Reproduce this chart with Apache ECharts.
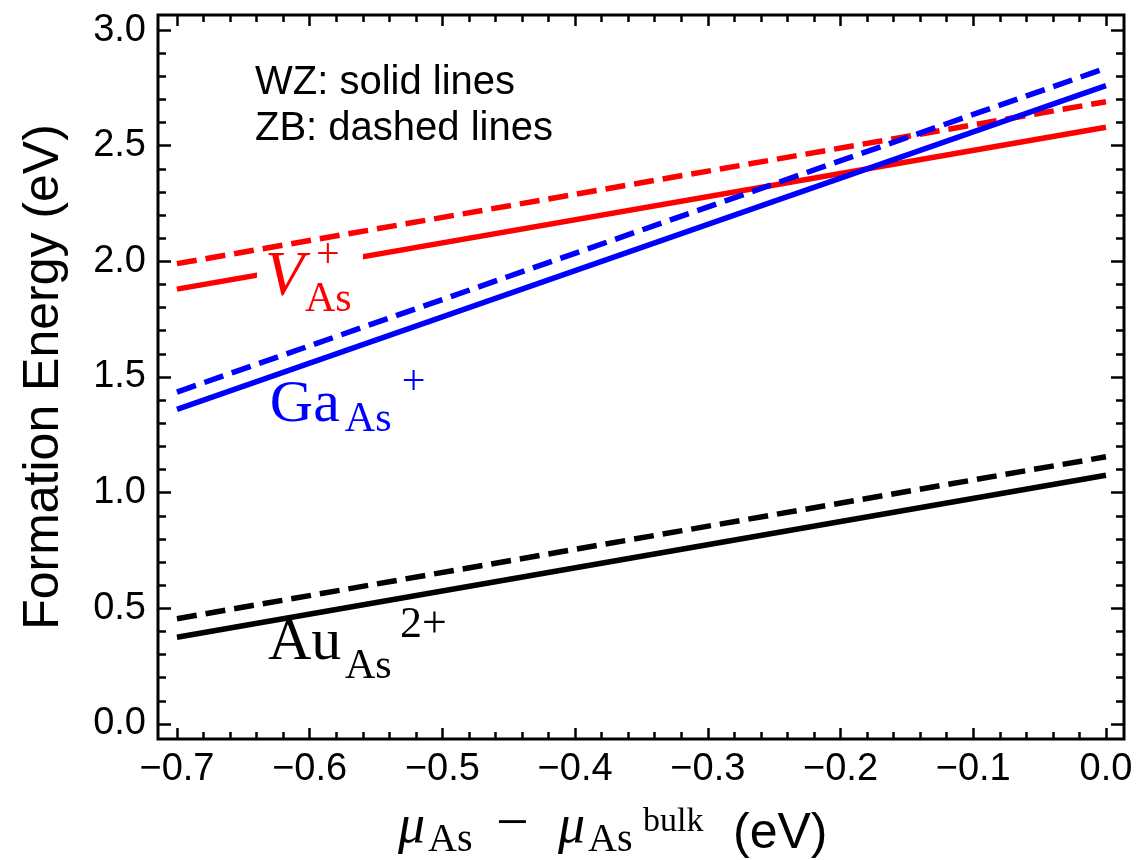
<!DOCTYPE html>
<html>
<head>
<meta charset="utf-8">
<script src="https://cdn.jsdelivr.net/npm/echarts@6/dist/echarts.min.js"></script>
<style>html,body{margin:0;padding:0;background:#fff;}#c{width:1137px;height:860px;}</style>
</head>
<body>
<div id="c"></div>
<script>
// ---- data ----
const muX = [-0.7, 0.0];
const vasWZ = [1.88, 2.58];
const vasZB = [1.99, 2.69];
const gaWZ = [1.36, 2.76];
const gaZB = [1.435, 2.835];
const auWZ = [0.375, 1.075];
const auZB = [0.455, 1.155];
const xMajor = [-0.7, -0.6, -0.5, -0.4, -0.3, -0.2, -0.1, 0.0];
const xMinor = [-0.70,-0.68,-0.66,-0.64,-0.62,-0.60,-0.58,-0.56,-0.54,-0.52,-0.50,-0.48,-0.46,-0.44,-0.42,-0.40,-0.38,-0.36,-0.34,-0.32,-0.30,-0.28,-0.26,-0.24,-0.22,-0.20,-0.18,-0.16,-0.14,-0.12,-0.10,-0.08,-0.06,-0.04,-0.02,0.0];
const yMajor = [0.0, 0.5, 1.0, 1.5, 2.0, 2.5, 3.0];
const yMinor = [0.0,0.1,0.2,0.3,0.4,0.5,0.6,0.7,0.8,0.9,1.0,1.1,1.2,1.3,1.4,1.5,1.6,1.7,1.8,1.9,2.0,2.1,2.2,2.3,2.4,2.5,2.6,2.7,2.8,2.9,3.0];
const legendLines = ['WZ: solid lines', 'ZB: dashed lines'];

const X_MIN = -0.7143, X_MAX = 0.0136, Y_MIN = -0.065, Y_MAX = 3.065;
const SANS = 'Liberation Sans, Arial, sans-serif';
const SERIF = 'Liberation Serif, Times New Roman, serif';

function fmt(v){ return v < 0 ? '\u2212' + (-v).toFixed(1) : Math.abs(v).toFixed(1); }

function mkX(pos, ticks, len, labels){
  return {
    type:'value', min:X_MIN, max:X_MAX, position:pos,
    axisLine:{show:false, onZero:false}, splitLine:{show:false},
    axisTick:{show:true, inside:true, length:len, customValues:ticks, lineStyle:{color:'#000', width:2.5}},
    axisLabel: labels ? {show:true, customValues:ticks, formatter:fmt, fontFamily:SANS, fontSize:38, color:'#000', margin:12} : {show:false}
  };
}
function mkY(pos, ticks, len, labels){
  return {
    type:'value', min:Y_MIN, max:Y_MAX, position:pos,
    axisLine:{show:false, onZero:false}, splitLine:{show:false},
    axisTick:{show:true, inside:true, length:len, customValues:ticks, lineStyle:{color:'#000', width:2.5}},
    axisLabel: labels ? {show:true, customValues:ticks, formatter:v=>v.toFixed(1), fontFamily:SANS, fontSize:38, color:'#000', margin:12} : {show:false}
  };
}
function line(name, ys, color, dashed){
  return {
    name, type:'line', xAxisIndex:0, yAxisIndex:0, symbol:'none', silent:true,
    data: muX.map((x,i)=>[x, ys[i]]),
    lineStyle:{color, width:5.5, type: dashed ? [20,9] : 'solid', cap:'butt'},
    z: 3
  };
}

const chart = echarts.init(document.getElementById('c'), null, {renderer:'canvas'});
const option = {
  animation:false,
  backgroundColor:'#fff',
  grid:{left:158, right:13, top:15, bottom:121, show:true, borderColor:'#000', borderWidth:3, backgroundColor:'transparent'},
  xAxis:[ mkX('bottom', xMajor, 11, true), mkX('bottom', xMinor, 7, false), mkX('top', xMajor, 11, false), mkX('top', xMinor, 7, false) ],
  yAxis:[ mkY('left', yMajor, 13, true), mkY('left', yMinor, 8, false), mkY('right', yMajor, 13, false), mkY('right', yMinor, 8, false) ],
  series:[
    line('V_As WZ', vasWZ, '#ff0000', false),
    line('V_As ZB', vasZB, '#ff0000', true),
    line('Ga_As WZ', gaWZ, '#0000ff', false),
    line('Ga_As ZB', gaZB, '#0000ff', true),
    line('Au_As WZ', auWZ, '#000000', false),
    line('Au_As ZB', auZB, '#000000', true)
  ]
};
chart.setOption(option);

// ---- annotations ----
function txt(x, y, text, font, size, color, opts){
  return {type:'text', z:100, x, y, style:{text, font: (opts && opts.italic ? 'italic ' : '') + size + 'px ' + font, fill:color, textAlign:'left', textVerticalAlign:'middle'}};
}
const g = [];
function label(anchor, pieces, color, bg){
  const p = chart.convertToPixel({seriesIndex:0}, anchor);
  if (bg) g.push({type:'rect', z:99, shape:{x:p[0]+bg[0], y:p[1]+bg[1], width:bg[2], height:bg[3]}, style:{fill:'#fff'}});
  pieces.forEach(pc => g.push(txt(p[0]+pc[0], p[1]+pc[1], pc[2], SERIF, pc[3], color, {italic:pc[4]})));
}
label([-0.6337, 1.928], [[0,0,'V',64,true],[40,22,'As',42,false],[51,-22,'+',42,false]], '#ff0000', [-8,-24,106,66]);
label([-0.63, 1.379], [[0,0,'Ga',60,false],[75,15,'As',42,false],[132,-22,'+',42,false]], '#0000ff');
label([-0.6314, 0.350], [[0,0,'Au',60,false],[77,24,'As',42,false],[132,-18,'2+',44,false]], '#000000');

// legend-like text
g.push(txt(255, 83, legendLines[0], SANS, 40, '#000'));
g.push(txt(255, 129, legendLines[1], SANS, 40, '#000'));

// y axis title
g.push({type:'text', z:100, x:44, y:377, rotation:Math.PI/2, style:{text:'Formation Energy (eV)', font:'50px '+SANS, fill:'#000', textAlign:'center', textVerticalAlign:'middle'}});
// x axis title
g.push(txt(398, 828, '\u03bc', SERIF, 54, '#000', {italic:true}));
g.push(txt(428, 840, 'As', SERIF, 40, '#000'));
g.push(txt(496, 826, '\u2212', SERIF, 58, '#000'));
g.push(txt(558, 828, '\u03bc', SERIF, 54, '#000', {italic:true}));
g.push(txt(588, 840, 'As', SERIF, 40, '#000'));
g.push(txt(643, 822, 'bulk', SERIF, 34, '#000'));
g.push(txt(733, 834, '(eV)', SANS, 50, '#000'));

chart.setOption({graphic: g});
</script>
</body>
</html>
